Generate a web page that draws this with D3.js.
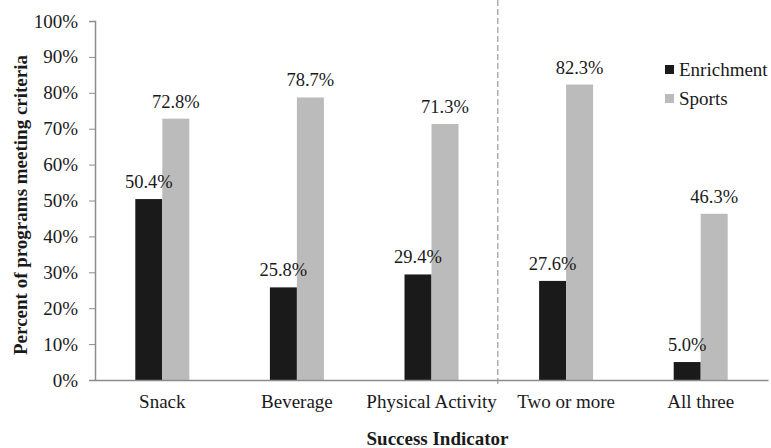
<!DOCTYPE html>
<html>
<head>
<meta charset="utf-8">
<script src="https://cdn.jsdelivr.net/npm/d3@7"></script>
<style>
  body { margin: 0; background: #fff; }
  text { font-family: "Liberation Serif", "Times New Roman", serif; fill: #1a1a1a; }
</style>
</head>
<body>
<div id="chart"></div>
<script>
const categories = ["Snack", "Beverage", "Physical Activity", "Two or more", "All three"];
const series = ["Enrichment", "Sports"];
const enrichment = [50.4, 25.8, 29.4, 27.6, 5.0];
const sports = [72.8, 78.7, 71.3, 82.3, 46.3];
const yTicks = [0, 10, 20, 30, 40, 50, 60, 70, 80, 90, 100];

const colors = { Enrichment: "#1a1a1a", Sports: "#bbbbbb" };

const margin = { top: 21, right: 3, bottom: 68, left: 95 };
const width = 771 - margin.left - margin.right;
const height = 448 - margin.top - margin.bottom;

const rows = categories.map((c, i) => ({ cat: c, Enrichment: enrichment[i], Sports: sports[i] }));

const x0 = d3.scaleBand()
  .domain(categories)
  .range([0, width])
  .paddingInner(0)
  .paddingOuter(0);

const x1 = d3.scaleBand()
  .domain(series)
  .range([x0.bandwidth() / 2 - 27, x0.bandwidth() / 2 + 27]);

const y = d3.scaleLinear()
  .domain([0, 100])
  .range([height, 0]);

const svg = d3.select("#chart")
  .append("svg")
  .attr("width", 771)
  .attr("height", 448)
  .append("g")
  .attr("transform", `translate(${margin.left},${margin.top})`);

// bars
const groups = svg.selectAll(".grp")
  .data(rows)
  .enter()
  .append("g")
  .attr("class", "grp")
  .attr("transform", d => `translate(${x0(d.cat)},0)`);

groups.selectAll("rect")
  .data(d => series.map(s => ({ key: s, value: d[s] })))
  .enter()
  .append("rect")
  .attr("x", d => x1(d.key))
  .attr("y", d => y(d.value))
  .attr("width", x1.bandwidth())
  .attr("height", d => height - y(d.value))
  .attr("fill", d => colors[d.key]);

groups.selectAll(".val")
  .data(d => series.map(s => ({ key: s, value: d[s] })))
  .enter()
  .append("text")
  .attr("class", "val")
  .attr("x", d => x1(d.key) + x1.bandwidth() / 2)
  .attr("y", d => y(d.value) - 11)
  .attr("text-anchor", "middle")
  .style("font-size", "18.5px")
  .text(d => d.value.toFixed(1) + "%");

// dashed separator between single and combined indicators
svg.append("line")
  .attr("x1", x0("Two or more") - 1)
  .attr("x2", x0("Two or more") - 1)
  .attr("y1", -margin.top)
  .attr("y2", height + 4)
  .attr("stroke", "#9a9a9a")
  .attr("stroke-width", 1.2)
  .attr("stroke-dasharray", "6,3");

// y axis
const yAxis = svg.append("g")
  .call(d3.axisLeft(y)
    .tickValues(yTicks)
    .tickFormat(d => d + "%")
    .tickSizeOuter(0)
    .tickSize(6)
    .tickPadding(11));
yAxis.select(".domain").attr("stroke", "#8c8c8c").attr("stroke-width", 1.5);
yAxis.selectAll(".tick line").attr("stroke", "#8c8c8c");
yAxis.selectAll("text")
  .style("font-family", "'Liberation Serif', serif")
  .style("font-size", "19px")
  .attr("fill", "#1a1a1a");

// x axis
const xAxis = svg.append("g")
  .attr("transform", `translate(0,${height})`)
  .call(d3.axisBottom(x0).tickSize(0).tickSizeOuter(0).tickPadding(14.5));
xAxis.select(".domain").attr("stroke", "#8c8c8c").attr("stroke-width", 1.5);
xAxis.selectAll("text")
  .style("font-family", "'Liberation Serif', serif")
  .style("font-size", "19px")
  .attr("fill", "#1a1a1a");

// axis titles
svg.append("text")
  .attr("x", 437.5 - margin.left)
  .attr("y", height + 65)
  .attr("text-anchor", "middle")
  .style("font-size", "19px")
  .style("font-weight", "bold")
  .text("Success Indicator");

svg.append("text")
  .attr("transform", `translate(${27 - margin.left},${205 - margin.top}) rotate(-90)`)
  .attr("text-anchor", "middle")
  .style("font-size", "19px")
  .style("font-weight", "bold")
  .text("Percent of programs meeting criteria");

// legend
const legend = svg.append("g")
  .attr("transform", `translate(${665 - margin.left},${65 - margin.top})`);

series.forEach((s, i) => {
  const row = legend.append("g").attr("transform", `translate(0,${i * 29})`);
  row.append("rect")
    .attr("width", 9)
    .attr("height", 9)
    .attr("fill", colors[s]);
  row.append("text")
    .attr("x", 14)
    .attr("y", 10.5)
    .style("font-size", "19px")
    .text(s);
});
</script>
</body>
</html>
